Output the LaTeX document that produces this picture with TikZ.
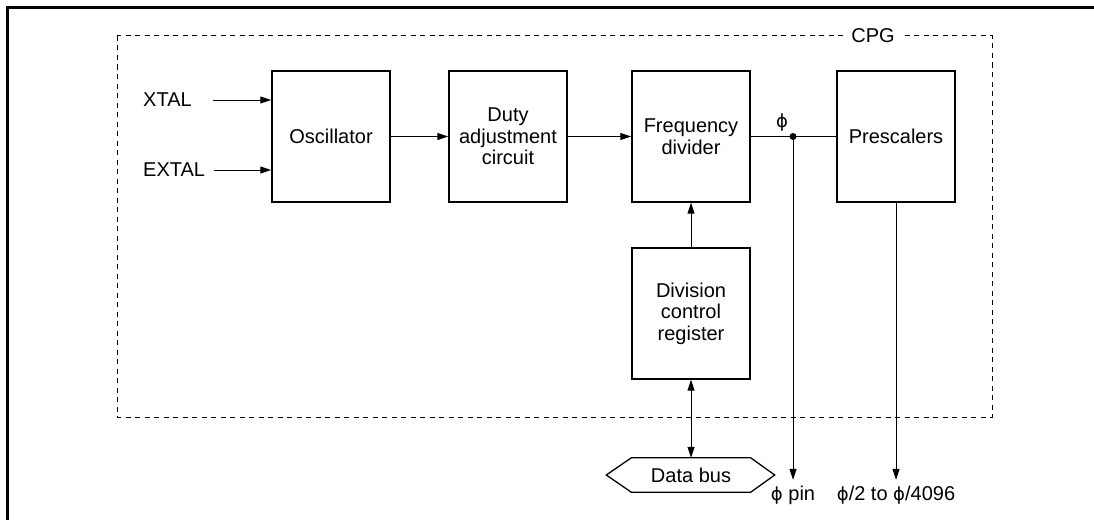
\documentclass[tikz,border=0pt]{standalone}
\usepackage{fontspec}
\setmainfont{Liberation Sans}
\newfontfamily\phifont{DejaVu Sans}
\usetikzlibrary{arrows.meta}
\newcommand\diagfont{\fontsize{20}{21.5}\selectfont}
\newcommand\phisym{{\phifont\fontsize{18}{20}\selectfont ϕ}}
\begin{document}
\begin{tikzpicture}[x=1pt,y=-1pt,
  box/.style={draw,line width=1.4pt,minimum width=118pt,minimum height=131pt,align=center,inner sep=0pt,font=\diagfont},
  lbl/.style={font=\diagfont,inner sep=0pt},
  conn/.style={line width=1pt},
  arr/.style={line width=1pt,-{Triangle[length=11pt,width=7pt]}},
  arrtwo/.style={line width=1pt,{Triangle[length=11pt,width=7pt]}-{Triangle[length=11pt,width=7pt]}},
  frame/.style={line width=1pt,dash pattern=on 5pt off 4.5pt}]
\useasboundingbox (0,0) rectangle (1094,519);
% outer frame (cropped)
\draw[line width=3pt] (1100,7.5) -- (7.5,7.5) -- (7.5,530);
% CPG dashed boundary
\draw[frame] (117,36) rectangle (992,417);
\node[lbl,fill=white,inner xsep=8pt,inner ysep=3pt] (cpg) at (873,36) {CPG};
% blocks
\node[box] (osc) at (331,136.5) {Oscillator};
\node[box] (duty) at (508,136.5) {Duty\\adjustment\\circuit};
\node[box] (freq) at (691,136.5) {Frequency\\divider};
\node[box] (pre) at (896,136.5) {Prescalers};
\node[box] (div) at (691,313.5) {Division\\control\\register};
% inputs
\node[lbl,anchor=west] (xtal) at (143,100) {XTAL};
\node[lbl,anchor=west] (extal) at (143,170) {EXTAL};
\coordinate (xs) at (213,100);
\coordinate (es) at (214,170);
\draw[arr] (xs) -- (xs -| osc.west);
\draw[arr] (es) -- (es -| osc.west);
% chain
\draw[arr] (osc.east) -- (duty.west);
\draw[arr] (duty.east) -- (freq.west);
\draw[conn] (freq.east) -- (pre.west);
\draw[arr] (div.north) -- (freq.south);
% phi junction
\coordinate (j) at (793,136.5);
\fill (j) circle (3.5pt);
\node[lbl] (phi) at (782,123) {\phisym};
% data bus
\node[lbl,minimum width=119pt,minimum height=34pt] (db) at (691,475) {Data bus};
\draw[line width=1.3pt] ([xshift=-25pt]db.west) -- (db.north west) -- (db.north east)
  -- ([xshift=24pt]db.east) -- (db.south east) -- (db.south west) -- cycle;
\draw[arrtwo] (div.south) -- (db.north);
% outputs
\node[lbl,anchor=base,inner ysep=5.5pt] (phipin) at (793,500) {\phisym\ pin};
\node[lbl,anchor=base,inner ysep=5.5pt] (phidiv) at (896,500) {\phisym/2 to \phisym/4096};
\draw[arr] (j) -- (j |- phipin.north);
\draw[arr] (pre.south) -- (pre.south |- phidiv.north);
\end{tikzpicture}
\end{document}
